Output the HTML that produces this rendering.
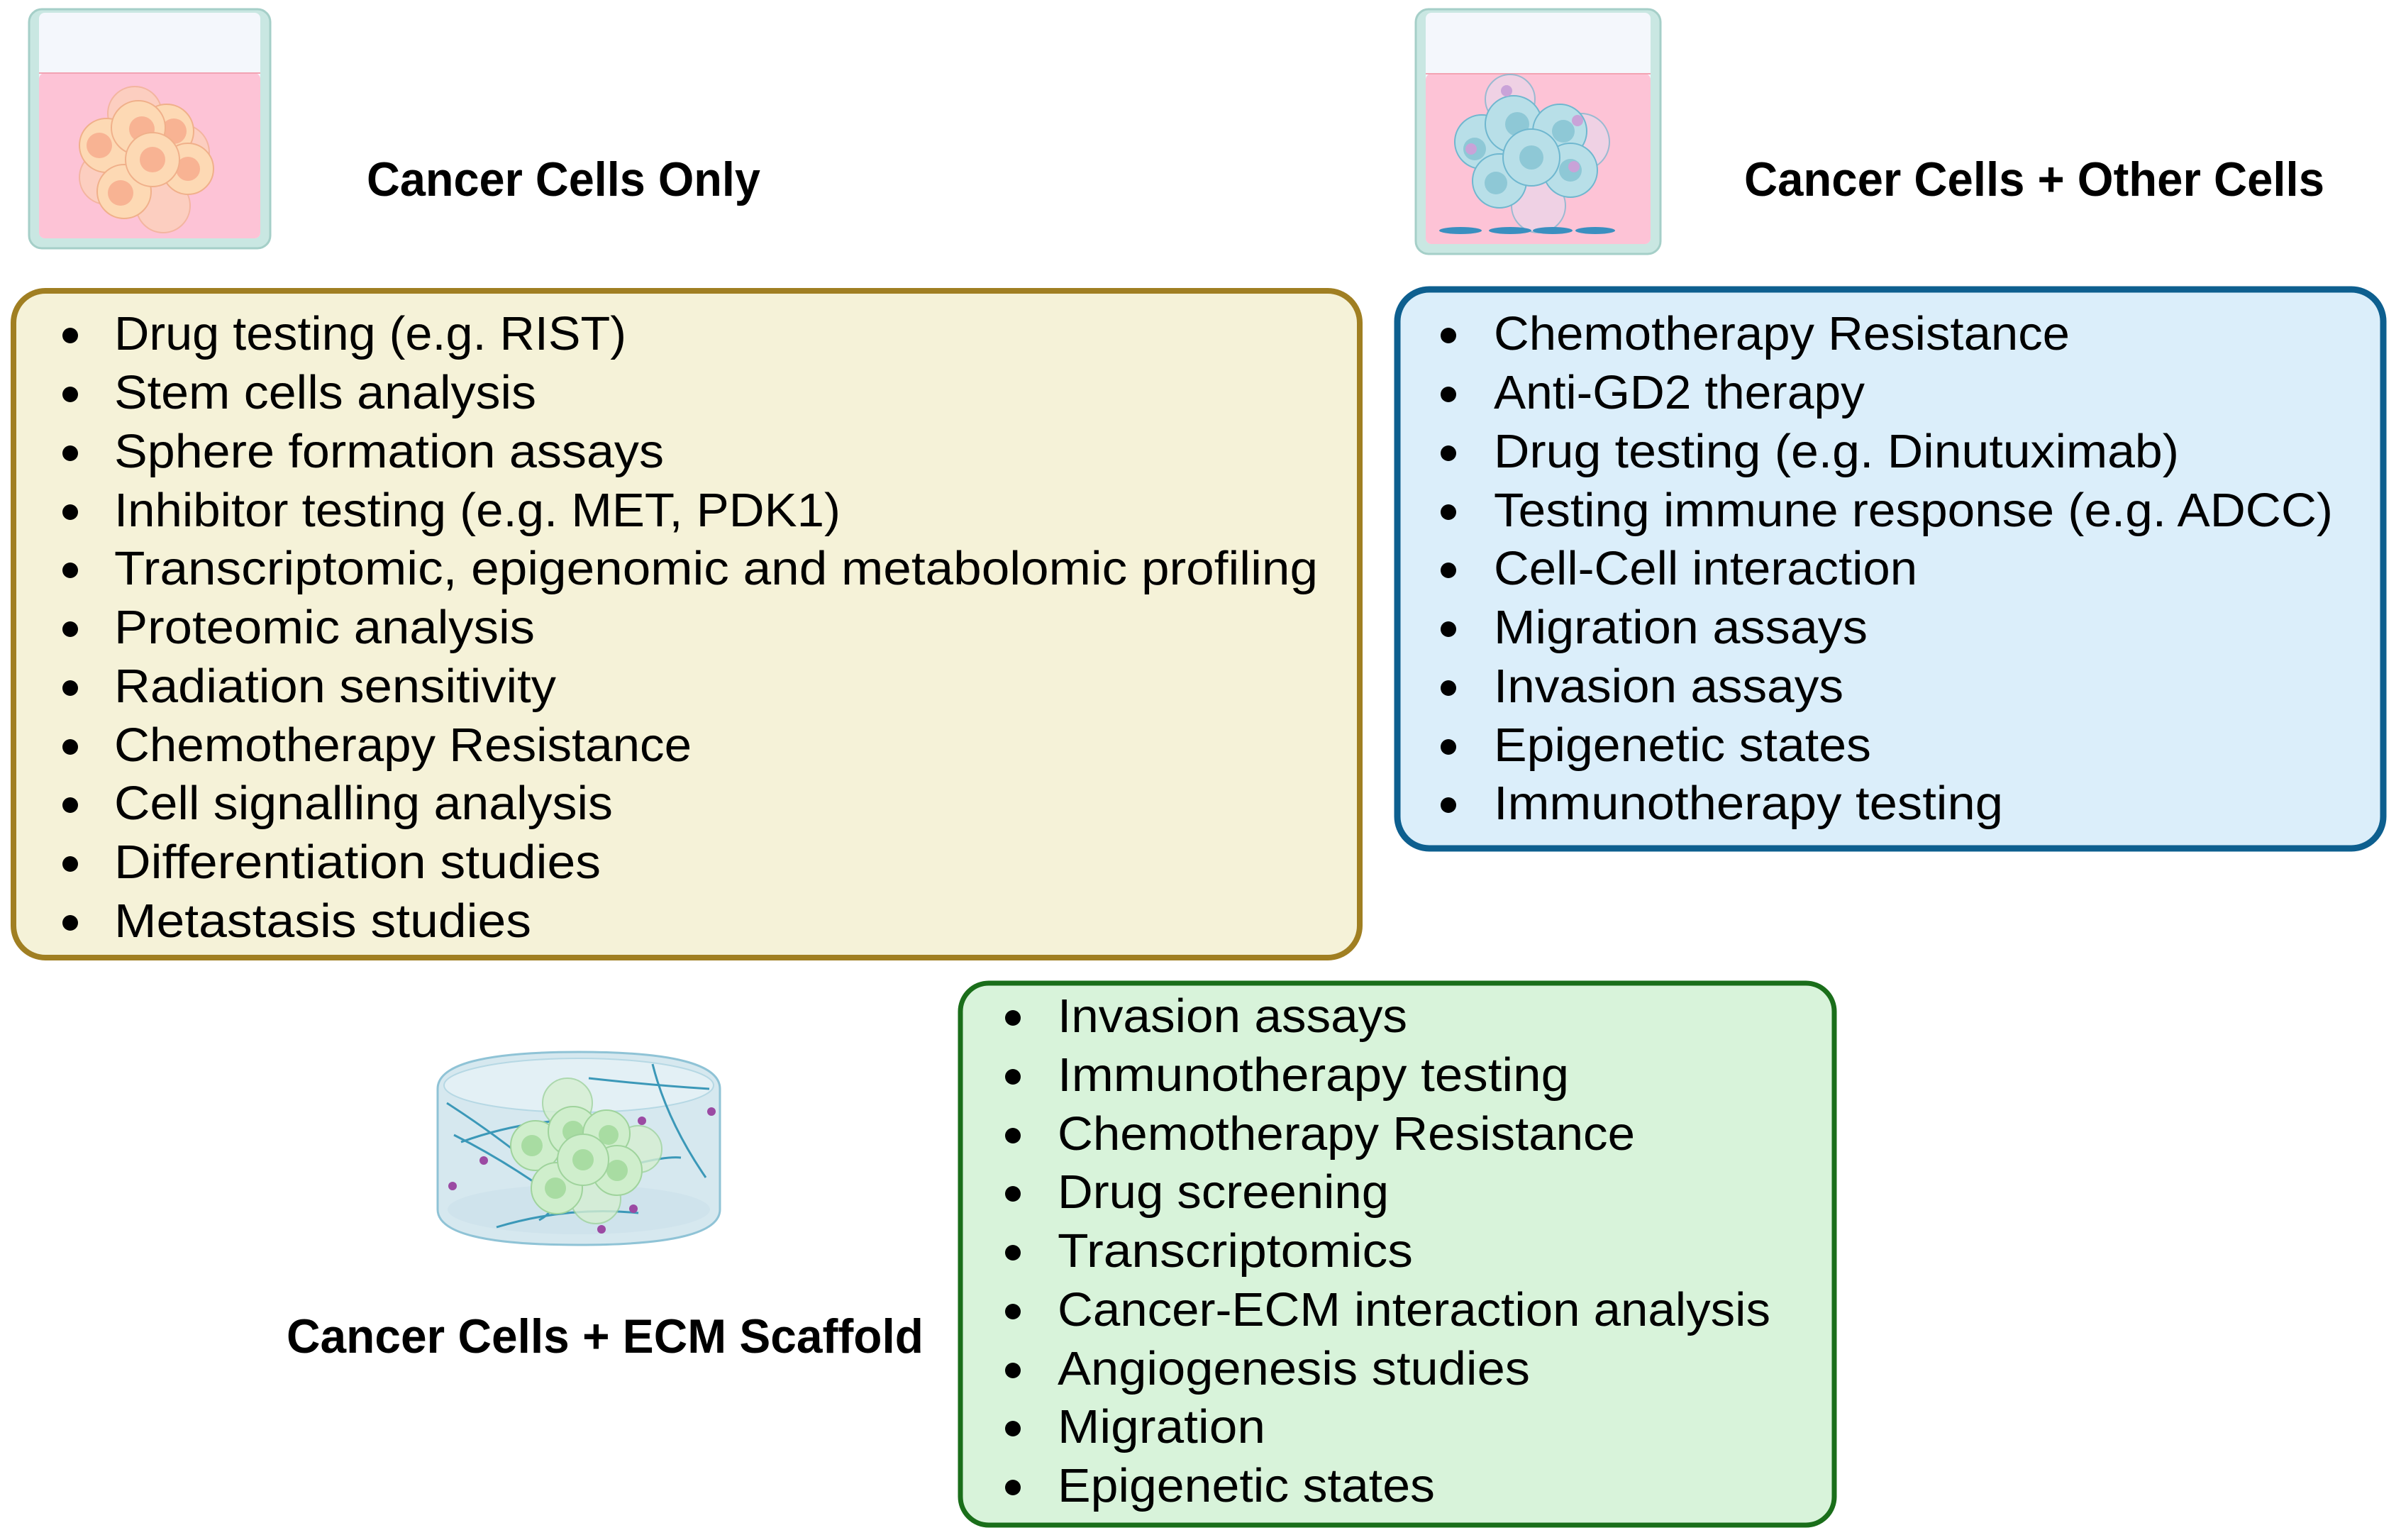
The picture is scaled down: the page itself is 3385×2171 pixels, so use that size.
<!DOCTYPE html>
<html><head><meta charset="utf-8"><style>
html,body{margin:0;padding:0;background:#fff}
svg{display:block}
text{font-family:"Liberation Sans",sans-serif;fill:#000}
.h{font-weight:bold;font-size:68px}
.t{font-size:67px}
</style></head><body>
<svg width="3385" height="2171" viewBox="0 0 3385 2171" xmlns="http://www.w3.org/2000/svg">
<!-- Beaker 1 -->
<rect x="41" y="13" width="340" height="337" rx="18" fill="#c9e7e2" stroke="#a5cfc8" stroke-width="3"/>
<rect x="55" y="18" width="312" height="318" rx="8" fill="#f4f7fc"/>
<rect x="55" y="103" width="312" height="233" rx="8" fill="#fdc3d6"/>
<line x1="55" y1="103" x2="367" y2="103" stroke="#f2a3b3" stroke-width="2"/>
<g stroke="#f0b08a" stroke-width="2">
<circle cx="190" cy="160" r="38" fill="#fcd3b8" opacity=".7"/>
<circle cx="255" cy="215" r="40" fill="#fcd3b8" opacity=".7"/>
<circle cx="230" cy="290" r="38" fill="#fcd3b8" opacity=".7"/>
<circle cx="150" cy="250" r="38" fill="#fcd3b8" opacity=".7"/>
<circle cx="150" cy="205" r="38" fill="#fdd9b4"/><circle cx="140" cy="205" r="18" fill="#f8b393" stroke="none"/>
<circle cx="235" cy="185" r="38" fill="#fdd9b4"/><circle cx="245" cy="185" r="18" fill="#f8b393" stroke="none"/>
<circle cx="195" cy="180" r="38" fill="#fdd9b4"/><circle cx="200" cy="182" r="18" fill="#f8b393" stroke="none"/>
<circle cx="265" cy="238" r="36" fill="#fdd9b4"/><circle cx="265" cy="238" r="17" fill="#f8b393" stroke="none"/>
<circle cx="175" cy="270" r="38" fill="#fdd9b4"/><circle cx="170" cy="272" r="18" fill="#f8b393" stroke="none"/>
<circle cx="215" cy="225" r="38" fill="#fdd9b4"/><circle cx="215" cy="225" r="18" fill="#f8b393" stroke="none"/>
</g>
<text class="h" x="517" y="276" textLength="555" lengthAdjust="spacingAndGlyphs">Cancer Cells Only</text>

<!-- Beaker 2 -->
<g transform="translate(-11,0)">
<rect x="2007" y="13" width="345" height="345" rx="18" fill="#c9e7e2" stroke="#a5cfc8" stroke-width="3"/>
<rect x="2021" y="18" width="317" height="326" rx="8" fill="#f4f7fc"/>
<rect x="2021" y="104" width="317" height="240" rx="8" fill="#fdc3d6"/>
<line x1="2021" y1="104" x2="2338" y2="104" stroke="#f2a3b3" stroke-width="2"/>
<g stroke="#6fb7cf" stroke-width="2">
<circle cx="2140" cy="140" r="35" fill="#ead7ea" opacity=".7"/>
<circle cx="2240" cy="200" r="40" fill="#ead7ea" opacity=".7"/>
<circle cx="2180" cy="290" r="38" fill="#ead7ea" opacity=".7"/>
<circle cx="2100" cy="200" r="38" fill="#b8dfe8"/><circle cx="2090" cy="210" r="16" fill="#8ec8d6" stroke="none"/>
<circle cx="2145" cy="175" r="40" fill="#b8dfe8"/><circle cx="2150" cy="175" r="17" fill="#8ec8d6" stroke="none"/>
<circle cx="2210" cy="185" r="38" fill="#b8dfe8"/><circle cx="2215" cy="185" r="16" fill="#8ec8d6" stroke="none"/>
<circle cx="2225" cy="240" r="38" fill="#b8dfe8"/><circle cx="2225" cy="240" r="16" fill="#8ec8d6" stroke="none"/>
<circle cx="2125" cy="255" r="38" fill="#b8dfe8"/><circle cx="2120" cy="258" r="16" fill="#8ec8d6" stroke="none"/>
<circle cx="2170" cy="222" r="40" fill="#b8dfe8"/><circle cx="2170" cy="222" r="17" fill="#8ec8d6" stroke="none"/>
</g>
<g fill="#c9a3d8"><circle cx="2135" cy="128" r="8"/><circle cx="2235" cy="170" r="8"/><circle cx="2085" cy="210" r="8"/><circle cx="2230" cy="235" r="8"/></g>
<g fill="#3a8fc0"><ellipse cx="2070" cy="325" rx="30" ry="5"/><ellipse cx="2140" cy="325" rx="30" ry="5"/><ellipse cx="2200" cy="325" rx="28" ry="5"/><ellipse cx="2260" cy="325" rx="28" ry="5"/></g>
</g>
<text class="h" x="2459" y="276" textLength="818" lengthAdjust="spacingAndGlyphs">Cancer Cells + Other Cells</text>

<!-- Yellow box -->
<rect x="19" y="410" width="1898" height="940" rx="45" fill="#f5f2d8" stroke="#a07f22" stroke-width="8"/>
<g transform="translate(-4,4)">
<g fill="#000">
<circle cx="103" cy="469" r="11"/><circle cx="103" cy="552" r="11"/><circle cx="103" cy="635" r="11"/><circle cx="103" cy="718" r="11"/><circle cx="103" cy="800" r="11"/><circle cx="103" cy="883" r="11"/><circle cx="103" cy="966" r="11"/><circle cx="103" cy="1049" r="11"/><circle cx="103" cy="1131" r="11"/><circle cx="103" cy="1214" r="11"/><circle cx="103" cy="1297" r="11"/>
</g>
<text class="t" x="165" y="489" textLength="722" lengthAdjust="spacingAndGlyphs">Drug testing (e.g. RIST)</text>
<text class="t" x="165" y="572" textLength="595" lengthAdjust="spacingAndGlyphs">Stem cells analysis</text>
<text class="t" x="165" y="655" textLength="775" lengthAdjust="spacingAndGlyphs">Sphere formation assays</text>
<text class="t" x="165" y="738" textLength="1024" lengthAdjust="spacingAndGlyphs">Inhibitor testing (e.g. MET, PDK1)</text>
<text class="t" x="165" y="820" textLength="1697" lengthAdjust="spacingAndGlyphs">Transcriptomic, epigenomic and metabolomic profiling</text>
<text class="t" x="165" y="903" textLength="593" lengthAdjust="spacingAndGlyphs">Proteomic analysis</text>
<text class="t" x="165" y="986" textLength="623" lengthAdjust="spacingAndGlyphs">Radiation sensitivity</text>
<text class="t" x="165" y="1069" textLength="814" lengthAdjust="spacingAndGlyphs">Chemotherapy Resistance</text>
<text class="t" x="165" y="1151" textLength="703" lengthAdjust="spacingAndGlyphs">Cell signalling analysis</text>
<text class="t" x="165" y="1234" textLength="686" lengthAdjust="spacingAndGlyphs">Differentiation studies</text>
<text class="t" x="165" y="1317" textLength="588" lengthAdjust="spacingAndGlyphs">Metastasis studies</text>
</g>

<!-- Blue box -->
<rect x="1970" y="408" width="1390" height="788" rx="45" fill="#dbeefa" stroke="#0d5f8f" stroke-width="9"/>
<g transform="translate(-13,4)">
<g fill="#000">
<circle cx="2055" cy="469" r="11"/><circle cx="2055" cy="552" r="11"/><circle cx="2055" cy="635" r="11"/><circle cx="2055" cy="718" r="11"/><circle cx="2055" cy="800" r="11"/><circle cx="2055" cy="883" r="11"/><circle cx="2055" cy="966" r="11"/><circle cx="2055" cy="1049" r="11"/><circle cx="2055" cy="1131" r="11"/>
</g>
<text class="t" x="2119" y="489" textLength="812" lengthAdjust="spacingAndGlyphs">Chemotherapy Resistance</text>
<text class="t" x="2119" y="572" textLength="523" lengthAdjust="spacingAndGlyphs">Anti-GD2 therapy</text>
<text class="t" x="2119" y="655" textLength="966" lengthAdjust="spacingAndGlyphs">Drug testing (e.g. Dinutuximab)</text>
<text class="t" x="2119" y="738" textLength="1183" lengthAdjust="spacingAndGlyphs">Testing immune response (e.g. ADCC)</text>
<text class="t" x="2119" y="820" textLength="597" lengthAdjust="spacingAndGlyphs">Cell-Cell interaction</text>
<text class="t" x="2119" y="903" textLength="527" lengthAdjust="spacingAndGlyphs">Migration assays</text>
<text class="t" x="2119" y="986" textLength="493" lengthAdjust="spacingAndGlyphs">Invasion assays</text>
<text class="t" x="2119" y="1069" textLength="532" lengthAdjust="spacingAndGlyphs">Epigenetic states</text>
<text class="t" x="2119" y="1151" textLength="718" lengthAdjust="spacingAndGlyphs">Immunotherapy testing</text>
</g>

<!-- Scaffold -->
<path d="M617 1535 Q617 1483 816 1483 Q1015 1483 1015 1535 L1015 1705 Q1015 1755 816 1755 Q617 1755 617 1705 Z" fill="#d6e8ef" stroke="#8fc3d6" stroke-width="3"/>
<ellipse cx="816" cy="1530" rx="190" ry="38" fill="#e3f0f5" stroke="#b6d8e4" stroke-width="2"/>
<ellipse cx="816" cy="1705" rx="185" ry="35" fill="#cfe3ec"/>
<g stroke="#3b98b8" stroke-width="3" fill="none">
<path d="M630 1555 Q700 1600 760 1650 Q800 1700 760 1720"/>
<path d="M640 1600 Q720 1640 800 1700"/>
<path d="M650 1610 Q760 1570 880 1580"/>
<path d="M830 1520 Q920 1530 1000 1535"/>
<path d="M920 1500 Q940 1580 995 1660"/>
<path d="M700 1730 Q800 1700 900 1710"/>
<path d="M900 1640 Q940 1630 960 1632"/>
</g>
<g stroke="#9fd39c" stroke-width="2">
<circle cx="800" cy="1555" r="35" fill="#d6efd2" opacity=".8"/>
<circle cx="900" cy="1620" r="33" fill="#d6efd2" opacity=".8"/>
<circle cx="840" cy="1690" r="35" fill="#d6efd2" opacity=".8"/>
<circle cx="755" cy="1615" r="35" fill="#cfeecc"/><circle cx="750" cy="1615" r="15" fill="#a8dca2" stroke="none"/>
<circle cx="808" cy="1595" r="35" fill="#cfeecc"/><circle cx="808" cy="1595" r="15" fill="#a8dca2" stroke="none"/>
<circle cx="855" cy="1598" r="33" fill="#cfeecc"/><circle cx="858" cy="1600" r="14" fill="#a8dca2" stroke="none"/>
<circle cx="870" cy="1650" r="35" fill="#cfeecc"/><circle cx="870" cy="1650" r="15" fill="#a8dca2" stroke="none"/>
<circle cx="785" cy="1675" r="36" fill="#cfeecc"/><circle cx="783" cy="1675" r="15" fill="#a8dca2" stroke="none"/>
<circle cx="822" cy="1635" r="36" fill="#cfeecc"/><circle cx="822" cy="1635" r="15" fill="#a8dca2" stroke="none"/>
</g>
<g fill="#9b4aa3"><circle cx="682" cy="1636" r="6"/><circle cx="638" cy="1672" r="6"/><circle cx="905" cy="1580" r="6"/><circle cx="1003" cy="1567" r="6"/><circle cx="893" cy="1704" r="6"/><circle cx="848" cy="1733" r="6"/></g>
<text class="h" x="404" y="1907" textLength="898" lengthAdjust="spacingAndGlyphs">Cancer Cells + ECM Scaffold</text>

<!-- Green box -->
<rect x="1354" y="1386" width="1232" height="764" rx="40" fill="#d8f3da" stroke="#1a6e1a" stroke-width="7"/>
<g transform="translate(-9,2)">
<g fill="#000">
<circle cx="1437" cy="1433" r="11"/><circle cx="1437" cy="1516" r="11"/><circle cx="1437" cy="1599" r="11"/><circle cx="1437" cy="1681" r="11"/><circle cx="1437" cy="1764" r="11"/><circle cx="1437" cy="1847" r="11"/><circle cx="1437" cy="1930" r="11"/><circle cx="1437" cy="2012" r="11"/><circle cx="1437" cy="2095" r="11"/>
</g>
<text class="t" x="1500" y="1453" textLength="493" lengthAdjust="spacingAndGlyphs">Invasion assays</text>
<text class="t" x="1500" y="1536" textLength="721" lengthAdjust="spacingAndGlyphs">Immunotherapy testing</text>
<text class="t" x="1500" y="1619" textLength="814" lengthAdjust="spacingAndGlyphs">Chemotherapy Resistance</text>
<text class="t" x="1500" y="1701" textLength="467" lengthAdjust="spacingAndGlyphs">Drug screening</text>
<text class="t" x="1500" y="1784" textLength="501" lengthAdjust="spacingAndGlyphs">Transcriptomics</text>
<text class="t" x="1500" y="1867" textLength="1005" lengthAdjust="spacingAndGlyphs">Cancer-ECM interaction analysis</text>
<text class="t" x="1500" y="1950" textLength="666" lengthAdjust="spacingAndGlyphs">Angiogenesis studies</text>
<text class="t" x="1500" y="2032" textLength="293" lengthAdjust="spacingAndGlyphs">Migration</text>
<text class="t" x="1500" y="2115" textLength="532" lengthAdjust="spacingAndGlyphs">Epigenetic states</text>
</g>
</svg>
</body></html>
